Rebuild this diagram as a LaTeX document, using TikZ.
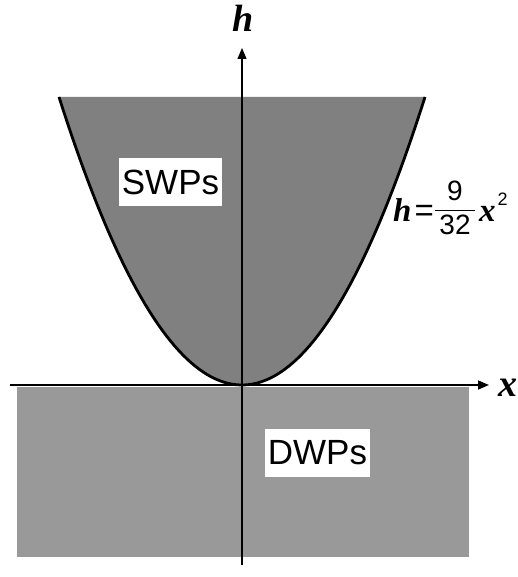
\documentclass[tikz,border=0pt]{standalone}
\usepackage{amsmath}
\usepackage{fontspec}
\setmainfont{Liberation Serif}
\setsansfont{Liberation Sans}
\usepackage{tikz}
\usepackage{xcolor}
\usetikzlibrary{arrows.meta}

\definecolor{swpgray}{HTML}{808080}
\definecolor{dwpgray}{HTML}{999999}
\newcommand{\bivar}[1]{{\bfseries\itshape #1}}
\newcommand{\sfnum}[1]{\hbox to 40pt{\hss\sffamily\fontsize{28}{28}\selectfont #1\hss}}

\begin{document}
\begin{tikzpicture}[
    x=1pt, y=1pt,
    axis/.style={draw, line width=1.6pt, -{Triangle[length=11pt,width=9pt]}},
    curve/.style={draw, line width=2.8pt},
    regionbox/.style={fill=white, inner xsep=3pt, inner ysep=0pt,
                      minimum height=48pt,
                      font=\sffamily\fontsize{35}{35}\selectfont},
    axislabel/.style={inner sep=0pt, font=\bfseries\itshape\fontsize{38}{38}\selectfont},
]
\useasboundingbox (0,0) rectangle (518,577);

% axes end points
\coordinate (O) at (242,192);
\coordinate (xl) at (10,192);
\coordinate (xr) at (489,192);
\coordinate (hb) at (242,12);
\coordinate (ht) at (242,529);

% DWPs region below the x axis
\fill[dwpgray] (17,20) rectangle (469,190);

% SWPs region above the parabola
\fill[swpgray] plot[domain=-183:183, samples=90]
  ({242+\x},{192+288*(\x/183)^2}) -- cycle;

% axes
\draw[axis] (xl) -- (xr);
\draw[axis, line width=1.2pt] (hb) -- (ht);
\node[axislabel] (hlab) at (243,559) {h};
\node[axislabel] (xlab) at (508,189) {x};

% boundary curve
\draw[curve] plot[domain=-183:183, samples=90]
  ({242+\x},{192+288*(\x/183)^2});

% region labels
\node[regionbox] (swp) at (170.5,394.5) {SWPs};
\node[regionbox] (dwp) at (317.5,124) {DWPs};

% equation of the boundary
\node[anchor=base west, inner sep=0pt, font=\fontsize{33}{33}\selectfont]
  (law) at (393,355)
  {\bivar{h}\kern3pt{\sffamily =}\raisebox{5pt}{$\genfrac{}{}{1pt}{0}{\sfnum{9}}{\sfnum{32}}$}\kern3pt\bivar{x}\kern2pt\raisebox{16pt}{\sffamily\fontsize{18}{18}\selectfont 2}};

\end{tikzpicture}
\end{document}
